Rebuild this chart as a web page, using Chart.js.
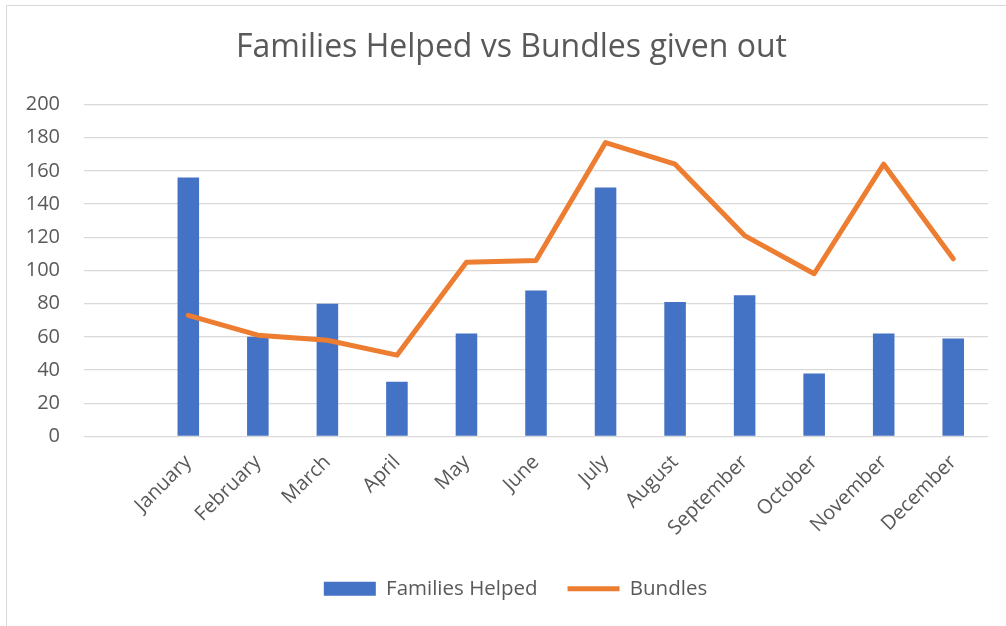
<!DOCTYPE html>
<html>
<head>
<meta charset="utf-8">
<script src="https://cdn.jsdelivr.net/npm/chart.js@4"></script>
<style>
    html, body { margin: 0; padding: 0; background: #fff; overflow: hidden; }
    #frame {
        position: absolute;
        left: 6px;
        top: 5px;
        width: 1033px;
        height: 640px;
        border-left: 1px solid #d9d9d9;
        border-top: 1px solid #d9d9d9;
    }
</style>
</head>
<body>
<div id="frame"><canvas id="familiesChart" width="1033" height="640"></canvas></div>
<script>
// chart data
const months = ['', 'January', 'February', 'March', 'April', 'May', 'June',
    'July', 'August', 'September', 'October', 'November', 'December'];
const familiesHelped = [null, 156, 60, 80, 33, 62, 88, 150, 81, 85, 38, 62, 59];
const bundles = [null, 73, 61, 58, 49, 105, 106, 177, 164, 121, 98, 164, 107];
const yTicks = [0, 20, 40, 60, 80, 100, 120, 140, 160, 180, 200];

// nudge title and legend a little to the right, like the original
const shiftBoxes = {
    id: 'shiftBoxes',
    afterLayout(chart) {
        if (chart.titleBlock) {
            chart.titleBlock.left += 9;
            chart.titleBlock.right += 9;
        }
        if (chart.legend) {
            chart.legend.left += 13;
            chart.legend.right += 13;
        }
    }
};

document.addEventListener('DOMContentLoaded', () => {
    const canvas = document.getElementById('familiesChart');
    const textColor = '#595959';
    const gridColor = '#d9d9d9';

    new Chart(canvas, {
        type: 'bar',
        plugins: [shiftBoxes],
        data: {
            labels: months,
            datasets: [{
                label: 'Families Helped',
                data: familiesHelped,
                backgroundColor: '#4472C4',
                borderWidth: 0,
                barPercentage: 0.31,
                categoryPercentage: 1,
                pointStyle: 'rect',
                order: 2,
            }, {
                type: 'line',
                label: 'Bundles',
                data: bundles,
                borderColor: '#ED7D31',
                backgroundColor: '#ED7D31',
                borderWidth: 5,
                borderCapStyle: 'round',
                borderJoinStyle: 'round',
                pointRadius: 0,
                pointHoverRadius: 0,
                pointStyle: 'line',
                tension: 0,
                order: 1,
            }]
        },
        options: {
            responsive: false,
            animation: false,
            layout: {
                padding: { left: 10, right: 52, top: 0, bottom: 37 }
            },
            scales: {
                x: {
                    grid: { display: false },
                    border: { display: false },
                    ticks: {
                        color: textColor,
                        font: { family: 'Open Sans', size: 20 },
                        minRotation: 45,
                        maxRotation: 45,
                        autoSkip: false,
                        padding: 6,
                    },
                    afterFit: function (scale) {
                        scale.height = 112;
                    }
                },
                y: {
                    min: 0,
                    max: 200,
                    afterBuildTicks: function (scale) {
                        scale.ticks = yTicks.map(v => ({ value: v }));
                    },
                    grid: {
                        color: gridColor,
                        lineWidth: 1.3,
                        drawTicks: false,
                    },
                    border: { display: false },
                    ticks: {
                        color: textColor,
                        font: { family: 'Open Sans', size: 20 },
                        padding: 24,
                    },
                    afterFit: function (scale) {
                        scale.width = 67;
                    }
                }
            },
            plugins: {
                title: {
                    display: true,
                    text: 'Families Helped vs Bundles given out',
                    color: textColor,
                    font: { family: 'Open Sans', size: 32, weight: 'normal' },
                    padding: { top: 23, bottom: 37 },
                },
                legend: {
                    position: 'bottom',
                    labels: {
                        color: textColor,
                        font: { family: 'Open Sans', size: 20.5 },
                        usePointStyle: true,
                        pointStyleWidth: 52,
                        boxHeight: 14,
                        padding: 30,
                        sort: (a, b) => a.datasetIndex - b.datasetIndex,
                    }
                },
                tooltip: { enabled: false }
            }
        }
    });
});
</script>
</body>
</html>
